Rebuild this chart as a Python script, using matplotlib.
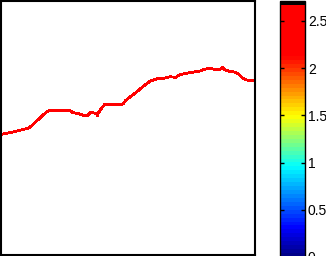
import numpy as np
import matplotlib
matplotlib.use("Agg")
import matplotlib.pyplot as plt
from matplotlib.colors import ListedColormap, Normalize, LinearSegmentedColormap
from matplotlib.cm import ScalarMappable

# Profile (x position, height)
x_pos = [1, 10, 15, 22, 27, 30, 35, 40, 45, 48, 70, 72, 78, 82, 87, 90, 93, 96, 97, 97.5,
         100, 104, 120, 123, 125, 130, 135, 140, 145, 150, 157, 165, 170, 175, 180, 185,
         190, 195, 200, 203, 207, 210, 215, 220, 222, 225, 230, 235, 238, 240, 243, 247,
         250, 255]
y_pix = [134.7, 133, 131.7, 130, 128.7, 127, 122, 117.7, 113, 111.3, 111.3, 113, 114,
         115.7, 115.7, 113, 113.3, 114, 116, 114, 109.7, 105, 105, 104, 101, 97, 93.3,
         89, 85, 81.3, 79, 78.3, 77, 77.7, 75, 73.7, 73, 72, 71.3, 70, 69, 68.7, 69.7,
         69.7, 67.7, 70, 72, 72.3, 74, 76, 78.7, 80.3, 81, 81]
height = [256 - v for v in y_pix]

# Colorbar
cbar_min = 0.0
cbar_max = 2.71
cbar_ticks = [0, 0.5, 1, 1.5, 2, 2.5]
cbar_ticklabels = ["0", "0.5", "1", "1.5", "2", "2.5"]
n_levels = 64

base = LinearSegmentedColormap.from_list(
    "jetlike",
    [(0.0, (0, 0, 0.5)), (0.115, (0, 0, 1)), (0.36, (0, 1, 1)),
     (0.56, (1, 1, 0)), (0.80, (1, 0, 0)), (1.0, (1, 0, 0))])
cols = [base((i + 0.5) / n_levels) for i in range(n_levels)] + [(0, 0, 0, 1)]
cmap = ListedColormap(cols)

plt.rcParams['font.family'] = ['Liberation Sans', 'DejaVu Sans']

W, H = 326, 256
fig = plt.figure(figsize=(W / 100, H / 100), dpi=100)

ax = fig.add_axes([1 / W, 1 / H, 254 / W, 254 / H])
ax.plot(x_pos, height, color=(1, 0, 0), lw=1.3, antialiased=False)
ax.set_xlim(0, 255)
ax.set_ylim(0, 255)
ax.set_xticks([])
ax.set_yticks([])
for s in ax.spines.values():
    s.set_linewidth(1.5)
    s.set_color('black')

cax = fig.add_axes([280 / W, -1 / H, 25 / W, 256 / H])
sm = ScalarMappable(norm=Normalize(cbar_min, cbar_max), cmap=cmap)
cb = fig.colorbar(sm, cax=cax)
cb.set_ticks(cbar_ticks)
cb.set_ticklabels(cbar_ticklabels)
cb.outline.set_linewidth(1.0)
cax.tick_params(axis='y', direction='in', length=3, width=1, pad=2,
                labelsize=10, left=True, right=True)

fig.savefig("out.png", dpi=100)
